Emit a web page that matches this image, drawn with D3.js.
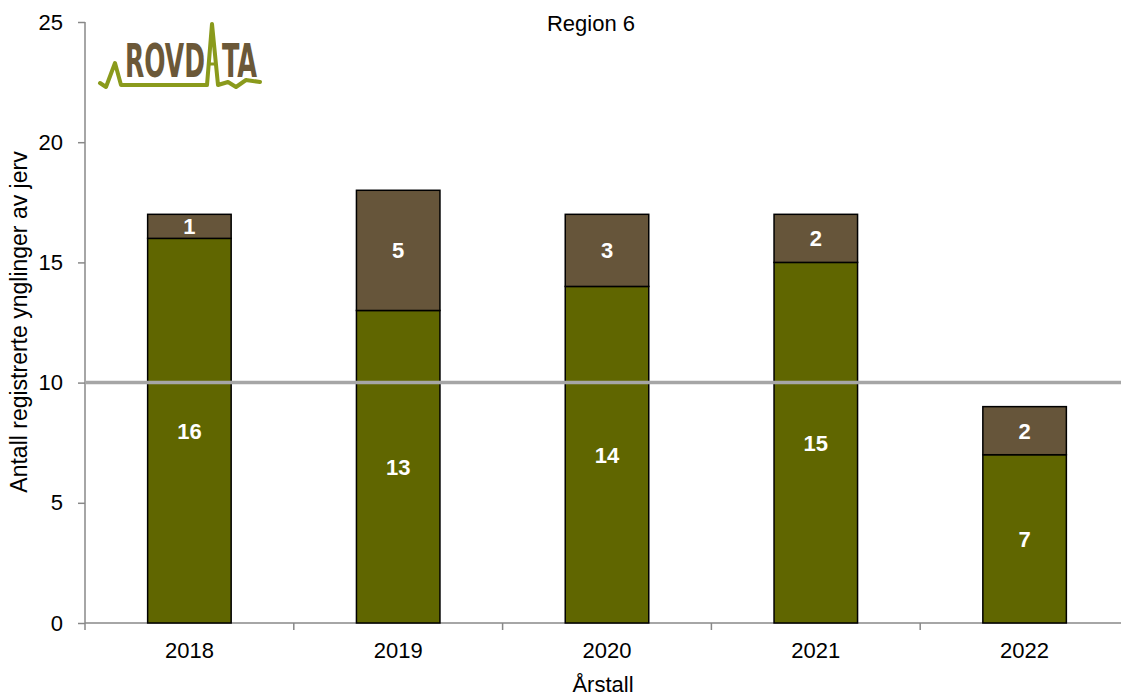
<!DOCTYPE html>
<html><head><meta charset="utf-8">
<script src="https://cdn.jsdelivr.net/npm/d3@7"></script>
<style>body{margin:0;background:#fff}svg{display:block;font-family:"Liberation Sans",Arial,sans-serif}</style>
</head><body>
<script>
const years = ["2018","2019","2020","2021","2022"];
const lower = [16,13,14,15,7];
const upper = [1,5,3,2,2];
const yTicks = [0,5,10,15,20,25];
const refValue = 10;
const title = "Region 6";
const yLabel = "Antall registrerte ynglinger av jerv";
const xLabel = "Årstall";

const W=1121,H=698,FS=22;
const svg=d3.select("body").append("svg").attr("width",W).attr("height",H);
const x=d3.scaleBand().domain(years).range([85,1129]).paddingInner(0.6).paddingOuter(0.3);
const xb=d3.scaleBand().domain(years).range([85,1129]);
const y=d3.scaleLinear().domain([0,25]).range([623,22]);

// axes
const yAxis=svg.append("g").attr("transform","translate(85,0)")
  .call(d3.axisLeft(y).tickValues(yTicks).tickSize(7).tickPadding(15));
yAxis.select(".domain").attr("stroke","#888").attr("stroke-width",1.5).attr("d","M0,"+y(25)+"V"+y(0));
yAxis.selectAll(".tick line").attr("stroke","#888").attr("stroke-width",1.5);
yAxis.selectAll("text").attr("font-size",FS).attr("fill","#000").attr("font-family","Liberation Sans, Arial");

const xAxisG=svg.append("g").attr("transform","translate(0,623)");
xAxisG.append("line").attr("x1",85).attr("x2",W).attr("stroke","#888").attr("stroke-width",1.5);
xAxisG.selectAll("line.t").data(years).enter().append("line").attr("class","t")
  .attr("x1",d=>xb(d)).attr("x2",d=>xb(d)).attr("y1",0).attr("y2",7).attr("stroke","#888").attr("stroke-width",1.5);
xAxisG.selectAll("text").data(years).enter().append("text")
  .attr("x",d=>xb(d)+xb.bandwidth()/2).attr("y",35).attr("text-anchor","middle")
  .attr("font-size",FS).text(d=>d);

// bars
const g=svg.append("g");
years.forEach((yr,i)=>{
  const x0=x(yr),bw=x.bandwidth();
  g.append("rect").attr("x",x0).attr("width",bw).attr("y",y(lower[i])).attr("height",y(0)-y(lower[i]))
    .attr("fill","#606600").attr("stroke","#000").attr("stroke-width",1.5);
  g.append("rect").attr("x",x0).attr("width",bw).attr("y",y(lower[i]+upper[i])).attr("height",y(lower[i])-y(lower[i]+upper[i]))
    .attr("fill","#66553A").attr("stroke","#000").attr("stroke-width",1.5);
  g.append("text").attr("x",x0+bw/2).attr("y",y(lower[i]/2)).attr("dy","0.36em").attr("text-anchor","middle")
    .attr("fill","#fff").attr("font-weight","bold").attr("font-size",FS).text(lower[i]);
  g.append("text").attr("x",x0+bw/2).attr("y",y(lower[i]+upper[i]/2)).attr("dy","0.36em").attr("text-anchor","middle")
    .attr("fill","#fff").attr("font-weight","bold").attr("font-size",FS).text(upper[i]);
});

// reference line
svg.append("line").attr("x1",86).attr("x2",W).attr("y1",y(refValue)).attr("y2",y(refValue))
  .attr("stroke","#A6A6A6").attr("stroke-width",3.5);

// title & labels
svg.append("text").attr("x",591).attr("y",31).attr("text-anchor","middle").attr("font-size",FS).text(title);
svg.append("text").attr("transform","translate(27,322) rotate(-90)").attr("text-anchor","middle").attr("font-size",23).text(yLabel);
svg.append("text").attr("x",603).attr("y",692).attr("text-anchor","middle").attr("font-size",FS).text(xLabel);

// logo
const logo=svg.append("g");
function logoText(str,x0,w){
  const gg=logo.append("g");
  const t=gg.append("text").attr("font-family","DejaVu Sans Condensed, DejaVu Sans").attr("font-weight","bold")
    .attr("font-size",47).attr("fill","#6B5838").text(str);
  const L=t.node().getComputedTextLength();
  gg.attr("transform",`translate(${x0},77) scale(${w/L},1)`);
}
logoText("ROVD",125,80);
logoText("TA",222,35);
logo.append("path").attr("d","M100,83 L106,87 L115,63 L121,85 L207,85 L212,24 L218,85 L228,82 L236,87 L246,80 L260,82")
  .attr("fill","none").attr("stroke","#8A9A1C").attr("stroke-width",4).attr("stroke-linejoin","round").attr("stroke-linecap","round");
logo.append("line").attr("x1",208).attr("x2",216).attr("y1",64).attr("y2",64).attr("stroke","#8A9A1C").attr("stroke-width",3);
</script>
</body></html>
